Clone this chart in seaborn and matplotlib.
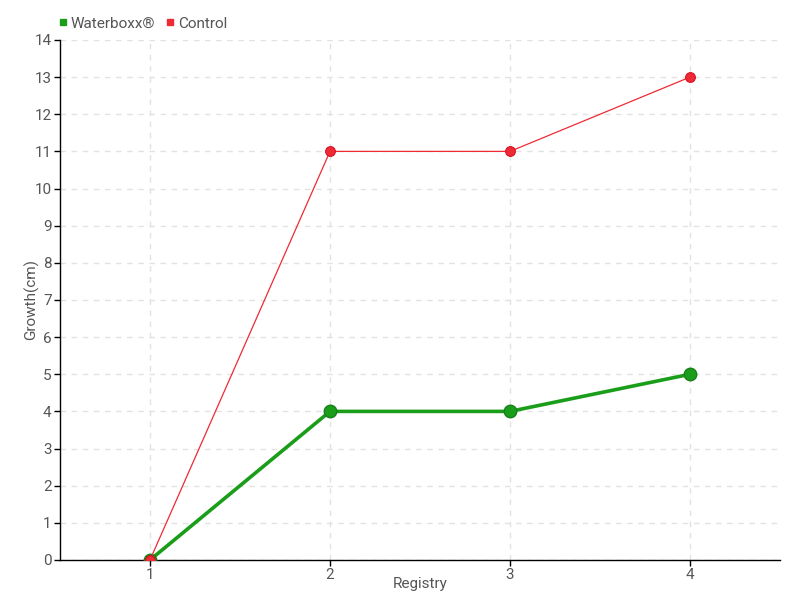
import matplotlib.pyplot as plt
import seaborn as sns
import pandas as pd
from matplotlib.lines import Line2D

registry = [1, 2, 3, 4]
waterboxx = [0, 4, 4, 5]
control = [0, 11, 11, 13]

df = pd.DataFrame({"Registry": registry, "Waterboxx": waterboxx, "Control": control})

sns.set_style("white")
plt.rcParams['font.family'] = ['Roboto', 'DejaVu Sans']

fig = plt.figure(figsize=(8, 6), dpi=100)
ax = fig.add_axes([0.075, 0.0667, 0.9, 0.8667])

green = "#1a9e1a"
red = "#ee2a35"

sns.lineplot(data=df, x="Registry", y="Waterboxx", ax=ax, color=green, linewidth=2.6,
             marker="o", markersize=9, markeredgecolor="#17801a", markeredgewidth=1, zorder=3)
sns.lineplot(data=df, x="Registry", y="Control", ax=ax, color=red, linewidth=0.9,
             marker="o", markersize=7, markeredgecolor="#d81020", markeredgewidth=0.8, zorder=4)

ax.set_xlim(0.5, 4.5)
ax.set_ylim(0, 14)
ax.set_xticks(registry)
ax.set_yticks(range(0, 15))
ax.grid(True, linestyle=(0, (4, 4)), color="#e2e2e2", linewidth=1)
ax.set_axisbelow(True)

for s in ["top", "right"]:
    ax.spines[s].set_visible(False)
for s in ["left", "bottom"]:
    ax.spines[s].set_color("black")
    ax.spines[s].set_linewidth(1)

ax.tick_params(axis="both", which="both", direction="out", length=4, width=1, pad=2,
               colors="black", labelcolor="#555555", labelsize=11, bottom=True, left=True)
ax.set_xlabel("Registry", color="#555555", fontsize=11)
ax.set_ylabel("Growth(cm)", color="#555555", fontsize=11)
ax.xaxis.set_label_coords(0.5, -0.032)
ax.yaxis.set_label_coords(-0.029, 0.5)

handles = [
    Line2D([], [], marker="s", linestyle="none", color=green, markersize=5),
    Line2D([], [], marker="s", linestyle="none", color=red, markersize=5),
]
fig.legend(handles, ["Waterboxx®", "Control"], loc="upper left", bbox_to_anchor=(0.052, 0.995),
           ncol=2, frameon=False, handletextpad=0.0, columnspacing=0.5, handlelength=1.0,
           labelcolor="#555555", fontsize=11)

fig.savefig("out.png", dpi=100)
